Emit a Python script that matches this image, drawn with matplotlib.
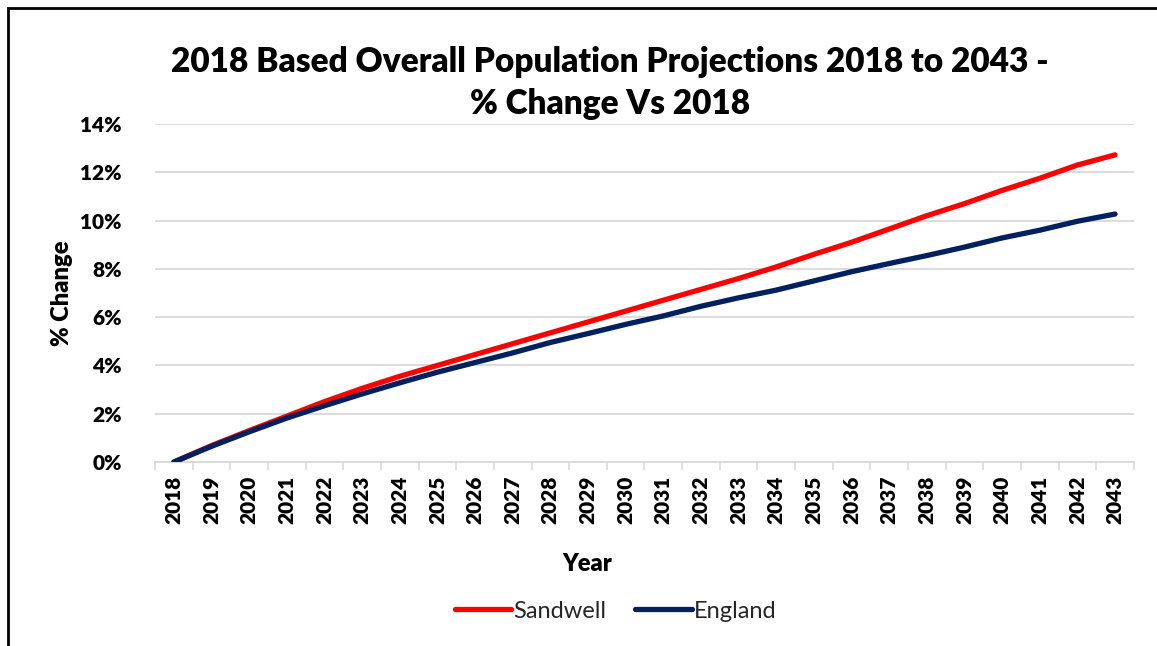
import numpy as np
import matplotlib
matplotlib.use("Agg")
import matplotlib.pyplot as plt
from matplotlib.patches import Rectangle

years = list(range(2018, 2044))
sandwell = [0.0, 0.68, 1.3, 1.9, 2.5, 3.05, 3.55, 4.0, 4.45, 4.9, 5.35, 5.8, 6.25,
            6.7, 7.15, 7.6, 8.08, 8.6, 9.1, 9.65, 10.2, 10.7, 11.25, 11.75, 12.3, 12.72]
england = [0.0, 0.65, 1.25, 1.82, 2.33, 2.82, 3.28, 3.72, 4.12, 4.52, 4.95, 5.32, 5.7,
           6.05, 6.45, 6.8, 7.12, 7.5, 7.88, 8.22, 8.55, 8.9, 9.28, 9.6, 9.97, 10.27]
y_ticks = [0, 2, 4, 6, 8, 10, 12, 14]

plt.rcParams['font.family'] = ['Lato', 'DejaVu Sans']

fig = plt.figure(figsize=(11.57, 6.46), dpi=100)
ax = fig.add_axes([0.134, 0.2848, 0.846, 0.5233])

x = np.arange(len(years))
ax.plot(x, sandwell, color='#ff0000', lw=3.8, solid_capstyle='round', label='Sandwell', zorder=3)
ax.plot(x, england, color='#002060', lw=3.8, solid_capstyle='round', label='England', zorder=3)

ax.set_xlim(-0.5, len(years) - 0.5)
ax.set_ylim(0, 14)
ax.set_yticks(y_ticks)
ax.set_yticklabels([f'{t}%' for t in y_ticks], fontsize=15, fontweight='heavy')
ax.set_xticks(x)
ax.set_xticklabels([str(y) for y in years], rotation=90, fontsize=15, fontweight='heavy')
ax.set_xticks(np.arange(-0.5, len(years)), minor=True)
ax.tick_params(axis='x', which='major', length=0, pad=10)
ax.tick_params(axis='x', which='minor', length=6, color='#d9d9d9', width=1.2)
ax.tick_params(axis='y', length=0, pad=24)

ax.grid(axis='y', color='#d9d9d9', lw=1.3)
ax.set_axisbelow(True)
for s in ['top', 'right', 'left']:
    ax.spines[s].set_visible(False)
ax.spines['bottom'].set_color('#d9d9d9')
ax.spines['bottom'].set_linewidth(1.3)
ax.spines['bottom'].set_zorder(1)

ax.set_xlabel('Year', fontsize=17, fontweight='heavy')
ax.xaxis.set_label_coords(0.442, -0.27)
ax.set_ylabel('% Change', fontsize=17, fontweight='heavy', labelpad=5)
fig.text(0.527, 0.872, '2018 Based Overall Population Projections 2018 to 2043 -\n% Change Vs 2018',
         ha='center', va='center', fontsize=24, fontweight='heavy', linespacing=1.38)

ax.legend(loc='center', bbox_to_anchor=(0.532, 0.054), bbox_transform=fig.transFigure,
          ncol=2, frameon=False, fontsize=17, handlelength=2.4, handletextpad=0.1,
          columnspacing=1.2, labelcolor='#262626')

fig.patches.append(Rectangle((8 / 1157, -0.1), 1.2, 1.1 - 8 / 646, transform=fig.transFigure,
                             fill=False, edgecolor='black', lw=2))

fig.savefig('out.png', dpi=100)
